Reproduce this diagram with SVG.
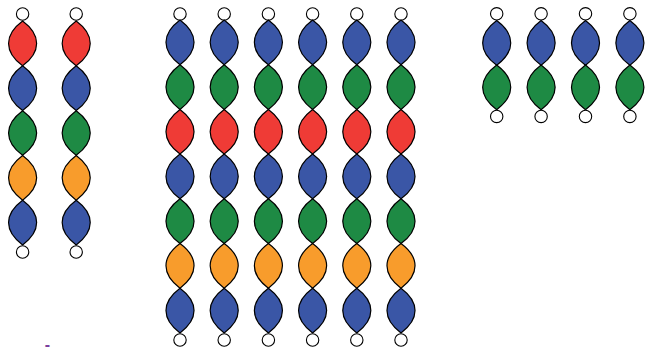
<svg xmlns="http://www.w3.org/2000/svg" xmlns:xlink="http://www.w3.org/1999/xlink" width="652" height="347" viewBox="0 0 652 347">
<style>
.r{fill:#EF3B36}.b{fill:#3A56A6}.g{fill:#1E8A44}.o{fill:#F89C2C}
.c{fill:#fff;stroke:#000;stroke-width:1.1}
.mark{font-family:"Liberation Sans",Arial,sans-serif;font-size:16px;font-weight:bold;fill:#7B3F9E}
</style>
<defs>
<path id="lens" d="M0,-22.35 C18.7,-8.5 18.7,8.5 0,22.35 C-18.7,8.5 -18.7,-8.5 0,-22.35 Z" stroke="#000" stroke-width="1.2" stroke-linejoin="miter"/>
</defs>
<rect width="652" height="347" fill="#fff"/>

<!-- Left group -->
<g id="left-1" transform="translate(22.6,0)">
<circle class="c" cx="0" cy="14" r="6.2"/>
<use xlink:href="#lens" class="r" y="43.4"/>
<use xlink:href="#lens" class="b" y="88.2"/>
<use xlink:href="#lens" class="g" y="133"/>
<use xlink:href="#lens" class="o" y="177.8"/>
<use xlink:href="#lens" class="b" y="222.6"/>
<circle class="c" cx="0" cy="252" r="6.2"/>
</g>
<g id="left-2" transform="translate(76.2,0)">
<circle class="c" cx="0" cy="14" r="6.2"/>
<use xlink:href="#lens" class="r" y="43.4"/>
<use xlink:href="#lens" class="b" y="88.2"/>
<use xlink:href="#lens" class="g" y="133"/>
<use xlink:href="#lens" class="o" y="177.8"/>
<use xlink:href="#lens" class="b" y="222.6"/>
<circle class="c" cx="0" cy="252" r="6.2"/>
</g>

<!-- Middle group -->
<g id="mid-1" transform="translate(180,0)">
<circle class="c" cx="0" cy="14" r="6.2"/>
<use xlink:href="#lens" class="b" y="42.35"/>
<use xlink:href="#lens" class="g" y="87.05"/>
<use xlink:href="#lens" class="r" y="131.75"/>
<use xlink:href="#lens" class="b" y="176.45"/>
<use xlink:href="#lens" class="g" y="221.15"/>
<use xlink:href="#lens" class="o" y="265.85"/>
<use xlink:href="#lens" class="b" y="310.55"/>
<circle class="c" cx="0" cy="340" r="6.2"/>
</g>
<g id="mid-2" transform="translate(224.2,0)">
<circle class="c" cx="0" cy="14" r="6.2"/>
<use xlink:href="#lens" class="b" y="42.35"/>
<use xlink:href="#lens" class="g" y="87.05"/>
<use xlink:href="#lens" class="r" y="131.75"/>
<use xlink:href="#lens" class="b" y="176.45"/>
<use xlink:href="#lens" class="g" y="221.15"/>
<use xlink:href="#lens" class="o" y="265.85"/>
<use xlink:href="#lens" class="b" y="310.55"/>
<circle class="c" cx="0" cy="340" r="6.2"/>
</g>
<g id="mid-3" transform="translate(268.4,0)">
<circle class="c" cx="0" cy="14" r="6.2"/>
<use xlink:href="#lens" class="b" y="42.35"/>
<use xlink:href="#lens" class="g" y="87.05"/>
<use xlink:href="#lens" class="r" y="131.75"/>
<use xlink:href="#lens" class="b" y="176.45"/>
<use xlink:href="#lens" class="g" y="221.15"/>
<use xlink:href="#lens" class="o" y="265.85"/>
<use xlink:href="#lens" class="b" y="310.55"/>
<circle class="c" cx="0" cy="340" r="6.2"/>
</g>
<g id="mid-4" transform="translate(312.6,0)">
<circle class="c" cx="0" cy="14" r="6.2"/>
<use xlink:href="#lens" class="b" y="42.35"/>
<use xlink:href="#lens" class="g" y="87.05"/>
<use xlink:href="#lens" class="r" y="131.75"/>
<use xlink:href="#lens" class="b" y="176.45"/>
<use xlink:href="#lens" class="g" y="221.15"/>
<use xlink:href="#lens" class="o" y="265.85"/>
<use xlink:href="#lens" class="b" y="310.55"/>
<circle class="c" cx="0" cy="340" r="6.2"/>
</g>
<g id="mid-5" transform="translate(356.8,0)">
<circle class="c" cx="0" cy="14" r="6.2"/>
<use xlink:href="#lens" class="b" y="42.35"/>
<use xlink:href="#lens" class="g" y="87.05"/>
<use xlink:href="#lens" class="r" y="131.75"/>
<use xlink:href="#lens" class="b" y="176.45"/>
<use xlink:href="#lens" class="g" y="221.15"/>
<use xlink:href="#lens" class="o" y="265.85"/>
<use xlink:href="#lens" class="b" y="310.55"/>
<circle class="c" cx="0" cy="340" r="6.2"/>
</g>
<g id="mid-6" transform="translate(401,0)">
<circle class="c" cx="0" cy="14" r="6.2"/>
<use xlink:href="#lens" class="b" y="42.35"/>
<use xlink:href="#lens" class="g" y="87.05"/>
<use xlink:href="#lens" class="r" y="131.75"/>
<use xlink:href="#lens" class="b" y="176.45"/>
<use xlink:href="#lens" class="g" y="221.15"/>
<use xlink:href="#lens" class="o" y="265.85"/>
<use xlink:href="#lens" class="b" y="310.55"/>
<circle class="c" cx="0" cy="340" r="6.2"/>
</g>

<!-- Right group -->
<g id="right-1" transform="translate(496.7,0)">
<circle class="c" cx="0" cy="13.8" r="6.2"/>
<use xlink:href="#lens" class="b" y="42.9"/>
<use xlink:href="#lens" class="g" y="87.3"/>
<circle class="c" cx="0" cy="116.4" r="6.2"/>
</g>
<g id="right-2" transform="translate(541.1,0)">
<circle class="c" cx="0" cy="13.8" r="6.2"/>
<use xlink:href="#lens" class="b" y="42.9"/>
<use xlink:href="#lens" class="g" y="87.3"/>
<circle class="c" cx="0" cy="116.4" r="6.2"/>
</g>
<g id="right-3" transform="translate(585.5,0)">
<circle class="c" cx="0" cy="13.8" r="6.2"/>
<use xlink:href="#lens" class="b" y="42.9"/>
<use xlink:href="#lens" class="g" y="87.3"/>
<circle class="c" cx="0" cy="116.4" r="6.2"/>
</g>
<g id="right-4" transform="translate(629.9,0)">
<circle class="c" cx="0" cy="13.8" r="6.2"/>
<use xlink:href="#lens" class="b" y="42.9"/>
<use xlink:href="#lens" class="g" y="87.3"/>
<circle class="c" cx="0" cy="116.4" r="6.2"/>
</g>

<g id="connectors"></g>

<text class="mark" x="44.8" y="349.8">-</text>
</svg>
